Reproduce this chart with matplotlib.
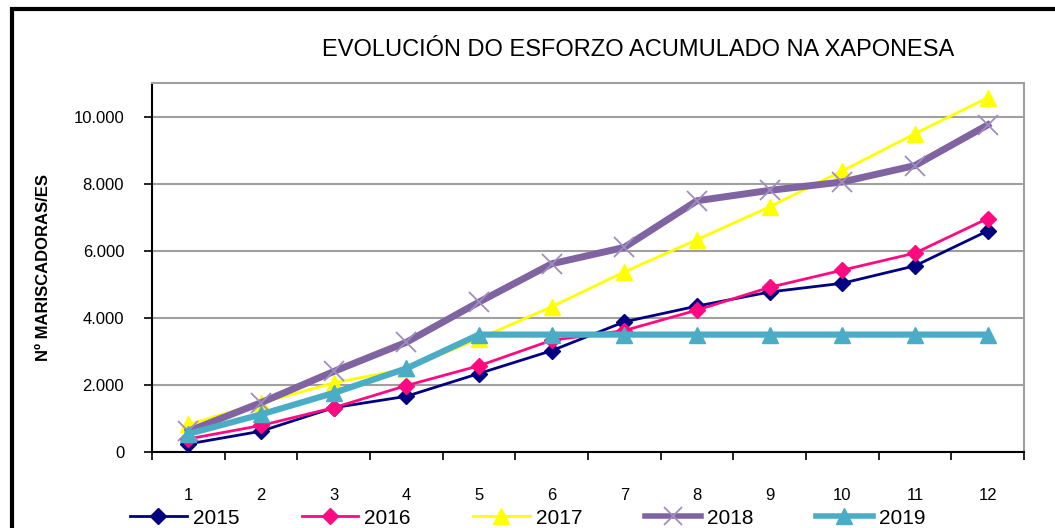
import matplotlib.pyplot as plt
from matplotlib.lines import Line2D
from matplotlib.patches import Rectangle
from matplotlib.ticker import FuncFormatter

plt.rcParams['font.family'] = ['Liberation Sans', 'DejaVu Sans']

meses = [1, 2, 3, 4, 5, 6, 7, 8, 9, 10, 11, 12]
anos = ['2015', '2016', '2017', '2018', '2019']

v2015 = [240, 620, 1320, 1660, 2340, 3020, 3880, 4350, 4770, 5030, 5550, 6590]
v2016 = [390, 790, 1320, 1980, 2570, 3330, 3620, 4230, 4910, 5420, 5930, 6960]
v2017 = [820, 1460, 2060, 2480, 3380, 4330, 5370, 6330, 7310, 8380, 9490, 10560]
v2018 = [620, 1470, 2400, 3270, 4470, 5610, 6100, 7490, 7800, 8050, 8540, 9750]
v2019 = [540, 1120, 1760, 2490, 3500, 3500, 3500, 3500, 3500, 3500, 3500, 3500]

fig = plt.figure(figsize=(10.55, 5.28), dpi=100)
ax = fig.add_axes([152 / 1055, 1 - 452 / 528, 872 / 1055, 369 / 528])

# estilo de cada serie: cor, marcador, grosor de liña, tamaño de marcador
ax.plot(meses, v2015, color='#000080', marker='D', markersize=8, linewidth=2, label='2015', zorder=3)
ax.plot(meses, v2016, color='#FF0A80', marker='D', markersize=8, linewidth=2, label='2016', zorder=3)
ax.plot(meses, v2017, color='#FFFF00', marker='^', markersize=11, linewidth=2, label='2017', zorder=3)
ax.plot(meses, v2018, color='#8064A2', marker='x', markersize=14, markeredgecolor='#9F8DC0',
        markeredgewidth=1.3, linewidth=5, label='2018', zorder=3)
ax.plot(meses, v2019, color='#4BACC6', marker='^', markersize=11, linewidth=4.5, label='2019', zorder=4)

ax.set_xlim(0.5, 12.5)
ax.set_ylim(0, 11000)
ax.set_yticks(range(0, 11000, 2000))
ax.yaxis.set_major_formatter(FuncFormatter(lambda v, p: f'{int(v):,}'.replace(',', '.')))
ax.set_xticks(meses)
ax.set_xticks([m + 0.5 for m in [0] + meses], minor=True)
ax.tick_params(axis='x', which='major', length=0, pad=26, labelsize=12)
ax.tick_params(axis='x', which='minor', length=6, width=1.2, direction='out')
ax.tick_params(axis='y', length=6, width=1.2, labelsize=12, pad=14)

ax.grid(axis='y', color='#A0A0A0', linewidth=1.5)
ax.set_axisbelow(True)
for s in ['left', 'bottom']:
    ax.spines[s].set_color('black')
    ax.spines[s].set_linewidth(1.5)
ax.spines['top'].set_color('#A0A0A0')
ax.spines['right'].set_color('#A0A0A0')
ax.spines['top'].set_linewidth(1.5)
ax.spines['right'].set_linewidth(1.5)

ax.set_ylabel('Nº MARISCADORAS/ES', fontsize=12, fontweight='bold', labelpad=16)
fig.text(638 / 1055, 1 - 50 / 528, 'EVOLUCIÓN DO ESFORZO ACUMULADO NA XAPONESA',
         ha='center', va='center', fontsize=17)

# lenda na parte inferior
handles = [
    Line2D([], [], color='#000080', marker='D', markersize=8, linewidth=2),
    Line2D([], [], color='#FF0A80', marker='D', markersize=8, linewidth=2),
    Line2D([], [], color='#FFFF00', marker='^', markersize=11, linewidth=2),
    Line2D([], [], color='#8064A2', marker='x', markersize=13, markeredgecolor='#9F8DC0',
           markeredgewidth=1.3, linewidth=4),
    Line2D([], [], color='#4BACC6', marker='^', markersize=11, linewidth=4),
]
fig.legend(handles, anos, loc='center left', bbox_to_anchor=(122 / 1055, 1 - 518 / 528),
           ncol=5, frameon=False, fontsize=15, handlelength=2.7, handletextpad=0.3,
           columnspacing=3.0, borderaxespad=0)

# marco do gráfico
fig.patches.append(Rectangle((12 / 1055, -0.1), 1.2, 1 - 9 / 528 + 0.1, transform=fig.transFigure,
                             fill=False, edgecolor='black', linewidth=3))

fig.savefig('out.png', dpi=100)
